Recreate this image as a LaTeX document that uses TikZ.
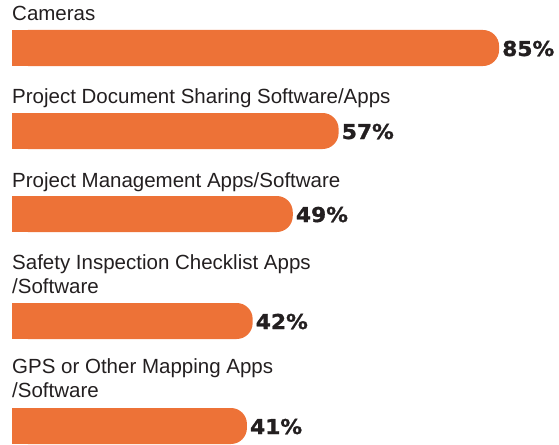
\documentclass[tikz,border=0pt]{standalone}
\usepackage{fontspec}
\setmainfont{Liberation Sans}
\newfontfamily\pctfont{DejaVu Sans}[FakeStretch=1.06, BoldFeatures={FakeBold=1.2}]

\definecolor{barorange}{RGB}{237,114,55}
\definecolor{labelgray}{RGB}{35,31,32}

\tikzset{
  lbl/.style={anchor=base west, inner sep=0pt, align=left, text=labelgray,
    font=\fontsize{20.5}{23.5}\selectfont},
  pct/.style={anchor=base west, inner sep=0pt, text=labelgray,
    font=\pctfont\bfseries\fontsize{20.5}{24}\selectfont}
}

\begin{document}
\begin{tikzpicture}[x=1pt,y=-1pt]

    \useasboundingbox (0,0) rectangle (559,444);

    % category labels (base = last line)
    \node[lbl] (cam) at (12,21) {Cameras};
    \node[lbl] (doc) at (12,103) {Project Document Sharing Software/Apps};
    \node[lbl] (mgmt) at (12,187) {Project Management Apps/Software};
    \node[lbl] (safety) at (12,293) {Safety Inspection Checklist Apps\\/Software};
    \node[lbl] (gps) at (12,397) {GPS or Other Mapping Apps\\/Software};

    % bars and percentages
    \foreach \v/\t/\name in {85/30/cam, 57/113/doc, 49/196/mgmt, 42/303/safety, 41/408/gps} {
      \fill[barorange, rounded corners=16pt] (12,\t) rectangle ({12+5.73*\v},{\t+36});
      \fill[barorange] (12,\t) rectangle (40,{\t+36});
      \node[pct] (p-\name) at ({12+5.73*\v+3},{\t+26}) {\v\%};
    }

\end{tikzpicture}
\end{document}
